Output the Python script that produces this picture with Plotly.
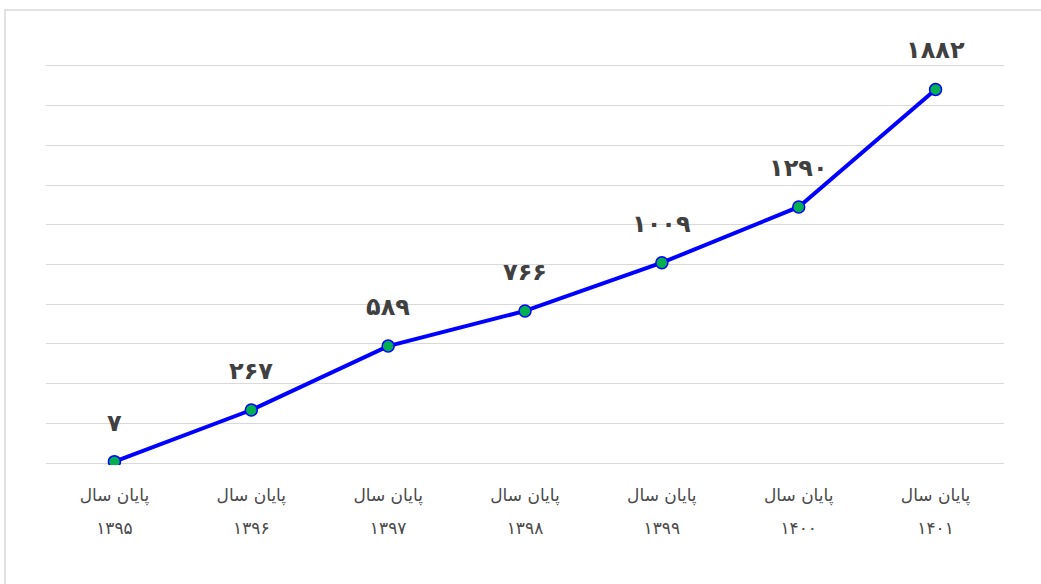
import plotly.graph_objects as go

years = ["۱۳۹۵", "۱۳۹۶", "۱۳۹۷", "۱۳۹۸", "۱۳۹۹", "۱۴۰۰", "۱۴۰۱"]
prefix = "پایان سال"
values = [7, 267, 589, 766, 1009, 1290, 1882]

fa_digits = str.maketrans("0123456789", "۰۱۲۳۴۵۶۷۸۹")
labels = [str(v).translate(fa_digits) for v in values]
cats = list(range(len(years)))

fig = go.Figure()

fig.add_trace(go.Scatter(
    x=cats, y=values, mode="lines+markers",
    line=dict(color="#0000ff", width=4),
    marker=dict(size=12, color="#00b050", line=dict(color="#0000ff", width=1.5)),
    hoverinfo="skip", showlegend=False,
))

# invisible trace just to carry the second row of tick labels
fig.add_trace(go.Scatter(x=cats, y=values, xaxis="x2", mode="none",
                         hoverinfo="skip", showlegend=False))

for x, y, t in zip(cats, values, labels):
    fig.add_annotation(x=x, y=y, text="<b>" + t + "</b>", showarrow=False, yshift=39,
                       font=dict(family="DejaVu Sans", size=24, color="#404040"))

fig.update_layout(
    width=1041, height=584,
    margin=dict(l=46, r=37, t=64, b=119),
    paper_bgcolor="white", plot_bgcolor="white",
    font=dict(family="DejaVu Sans", color="#595959"),
    xaxis=dict(
        range=[-0.5, 6.5], tickmode="array", tickvals=cats,
        ticktext=[prefix] * len(years),
        tickfont=dict(size=17, color="#4a4a4a"),
        showgrid=False, zeroline=False, showline=False, ticks="",
        ticklabelstandoff=18, automargin=False,
    ),
    xaxis2=dict(
        overlaying="x", matches="x", side="bottom", anchor="y",
        tickmode="array", tickvals=cats,
        ticktext=[yr for yr in years],
        tickfont=dict(size=17, color="#4a4a4a"),
        showgrid=False, zeroline=False, showline=False, ticks="",
        ticklabelstandoff=51, automargin=False,
    ),
    yaxis=dict(
        range=[-10, 2010], tickmode="array", tickvals=list(range(0, 2001, 200)),
        showticklabels=False, automargin=False,
        gridcolor="#d9d9d9", gridwidth=1.3, zeroline=False, showline=False,
    ),
    shapes=[dict(type="rect", xref="paper", yref="paper",
                 x0=-0.0428, x1=1.2, y0=-0.5, y1=1.1347,
                 line=dict(color="#d9d9d9", width=1.5), layer="below")],
)

fig.write_html("out.html", config={"displayModeBar": False},
               post_script="document.body.style.margin='0';")
